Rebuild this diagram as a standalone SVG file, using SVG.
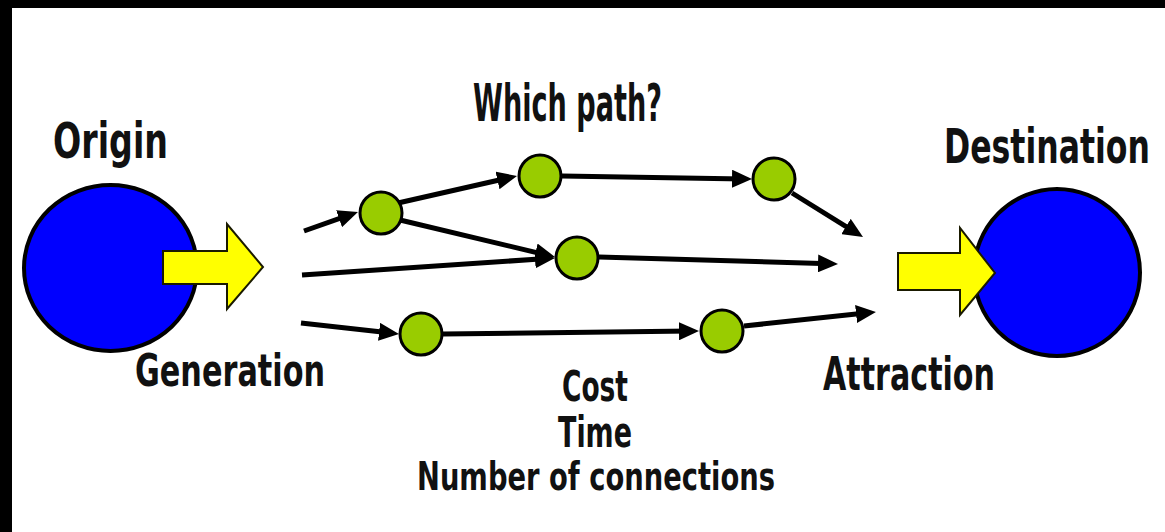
<svg xmlns="http://www.w3.org/2000/svg" width="1165" height="532" viewBox="0 0 1165 532">
  <style>
    .lbl { font-family: "Liberation Sans Narrow", "DejaVu Sans Condensed", "Liberation Sans", sans-serif; font-weight: bold; fill: #111; }
    .zone { fill: #0000ff; stroke: #000; stroke-width: 4; }
    .flow { fill: #ffff00; stroke: #1a1a00; stroke-width: 2; stroke-linejoin: miter; }
    .stop { fill: #99cc00; stroke: #000; stroke-width: 3; }
    .link { stroke: #000; stroke-width: 5; fill: none; marker-end: url(#head); }
  </style>
  <defs>
    <marker id="head" markerUnits="userSpaceOnUse" viewBox="0 0 20 18" markerWidth="20" markerHeight="18" refX="12" refY="9" orient="auto">
      <path d="M0,0 L20,9 L0,18 Z" fill="#000"/>
    </marker>
  </defs>

  <!-- page and frame -->
  <rect x="0" y="0" width="1165" height="532" fill="#ffffff"/>
  <rect x="0" y="0" width="1165" height="8" fill="#000"/>
  <rect x="0" y="0" width="12" height="532" fill="#000"/>

  <!-- origin zone -->
  <g id="origin">
    <ellipse class="zone" cx="110.5" cy="268" rx="86.5" ry="83"/>
    <polygon class="flow" points="163,251 227,251 227,224 263,267 227,309 227,284 163,284"/>
    <text class="lbl" x="53" y="158" font-size="50" textLength="115" lengthAdjust="spacingAndGlyphs">Origin</text>
    <text class="lbl" x="135" y="386" font-size="44" textLength="190" lengthAdjust="spacingAndGlyphs">Generation</text>
  </g>

  <!-- destination zone -->
  <g id="destination">
    <ellipse class="zone" cx="1057" cy="272.5" rx="83" ry="83.5"/>
    <polygon class="flow" points="898,253 960,253 960,228 995,273 960,315 960,290 898,290"/>
    <text class="lbl" transform="translate(944,163) scale(0.73,1)" font-size="48">Destination</text>
    <text class="lbl" x="823" y="390" font-size="47" textLength="172" lengthAdjust="spacingAndGlyphs">Attraction</text>
  </g>

  <!-- route question and criteria -->
  <g id="title">
    <text class="lbl" x="473" y="121" font-size="52" textLength="189" lengthAdjust="spacingAndGlyphs">Which path?</text>
  </g>
  <g id="criteria">
    <text class="lbl" x="562" y="401" font-size="43" textLength="66" lengthAdjust="spacingAndGlyphs">Cost</text>
    <text class="lbl" x="558" y="447" font-size="42" textLength="74" lengthAdjust="spacingAndGlyphs">Time</text>
    <text class="lbl" x="417" y="490" font-size="39" textLength="358" lengthAdjust="spacingAndGlyphs">Number of connections</text>
  </g>

  <!-- connectors between stops -->
  <g id="connectors">
    <line class="link" x1="304" y1="231" x2="350.4" y2="214.7"/>
    <line class="link" x1="398" y1="203" x2="509.2" y2="177.8"/>
    <line class="link" x1="400" y1="220" x2="547.2" y2="255.1"/>
    <line class="link" x1="302" y1="275" x2="547" y2="258.5"/>
    <line class="link" x1="301" y1="323" x2="391" y2="333.1"/>
    <line class="link" x1="562" y1="176" x2="744" y2="178.9"/>
    <line class="link" x1="792" y1="193" x2="856.2" y2="232.8"/>
    <line class="link" x1="599" y1="257" x2="830" y2="263.8"/>
    <line class="link" x1="443" y1="334" x2="691" y2="331.1"/>
    <line class="link" x1="744" y1="326" x2="868" y2="312.8"/>
  </g>

  <!-- intermediate stops -->
  <g id="stop-a"><circle class="stop" cx="381" cy="213" r="21"/></g>
  <g id="stop-b"><circle class="stop" cx="540" cy="176" r="21"/></g>
  <g id="stop-c"><circle class="stop" cx="577" cy="258" r="21"/></g>
  <g id="stop-d"><circle class="stop" cx="421" cy="334" r="21"/></g>
  <g id="stop-e"><circle class="stop" cx="774" cy="179" r="21"/></g>
  <g id="stop-f"><circle class="stop" cx="722" cy="331" r="21"/></g>
</svg>
